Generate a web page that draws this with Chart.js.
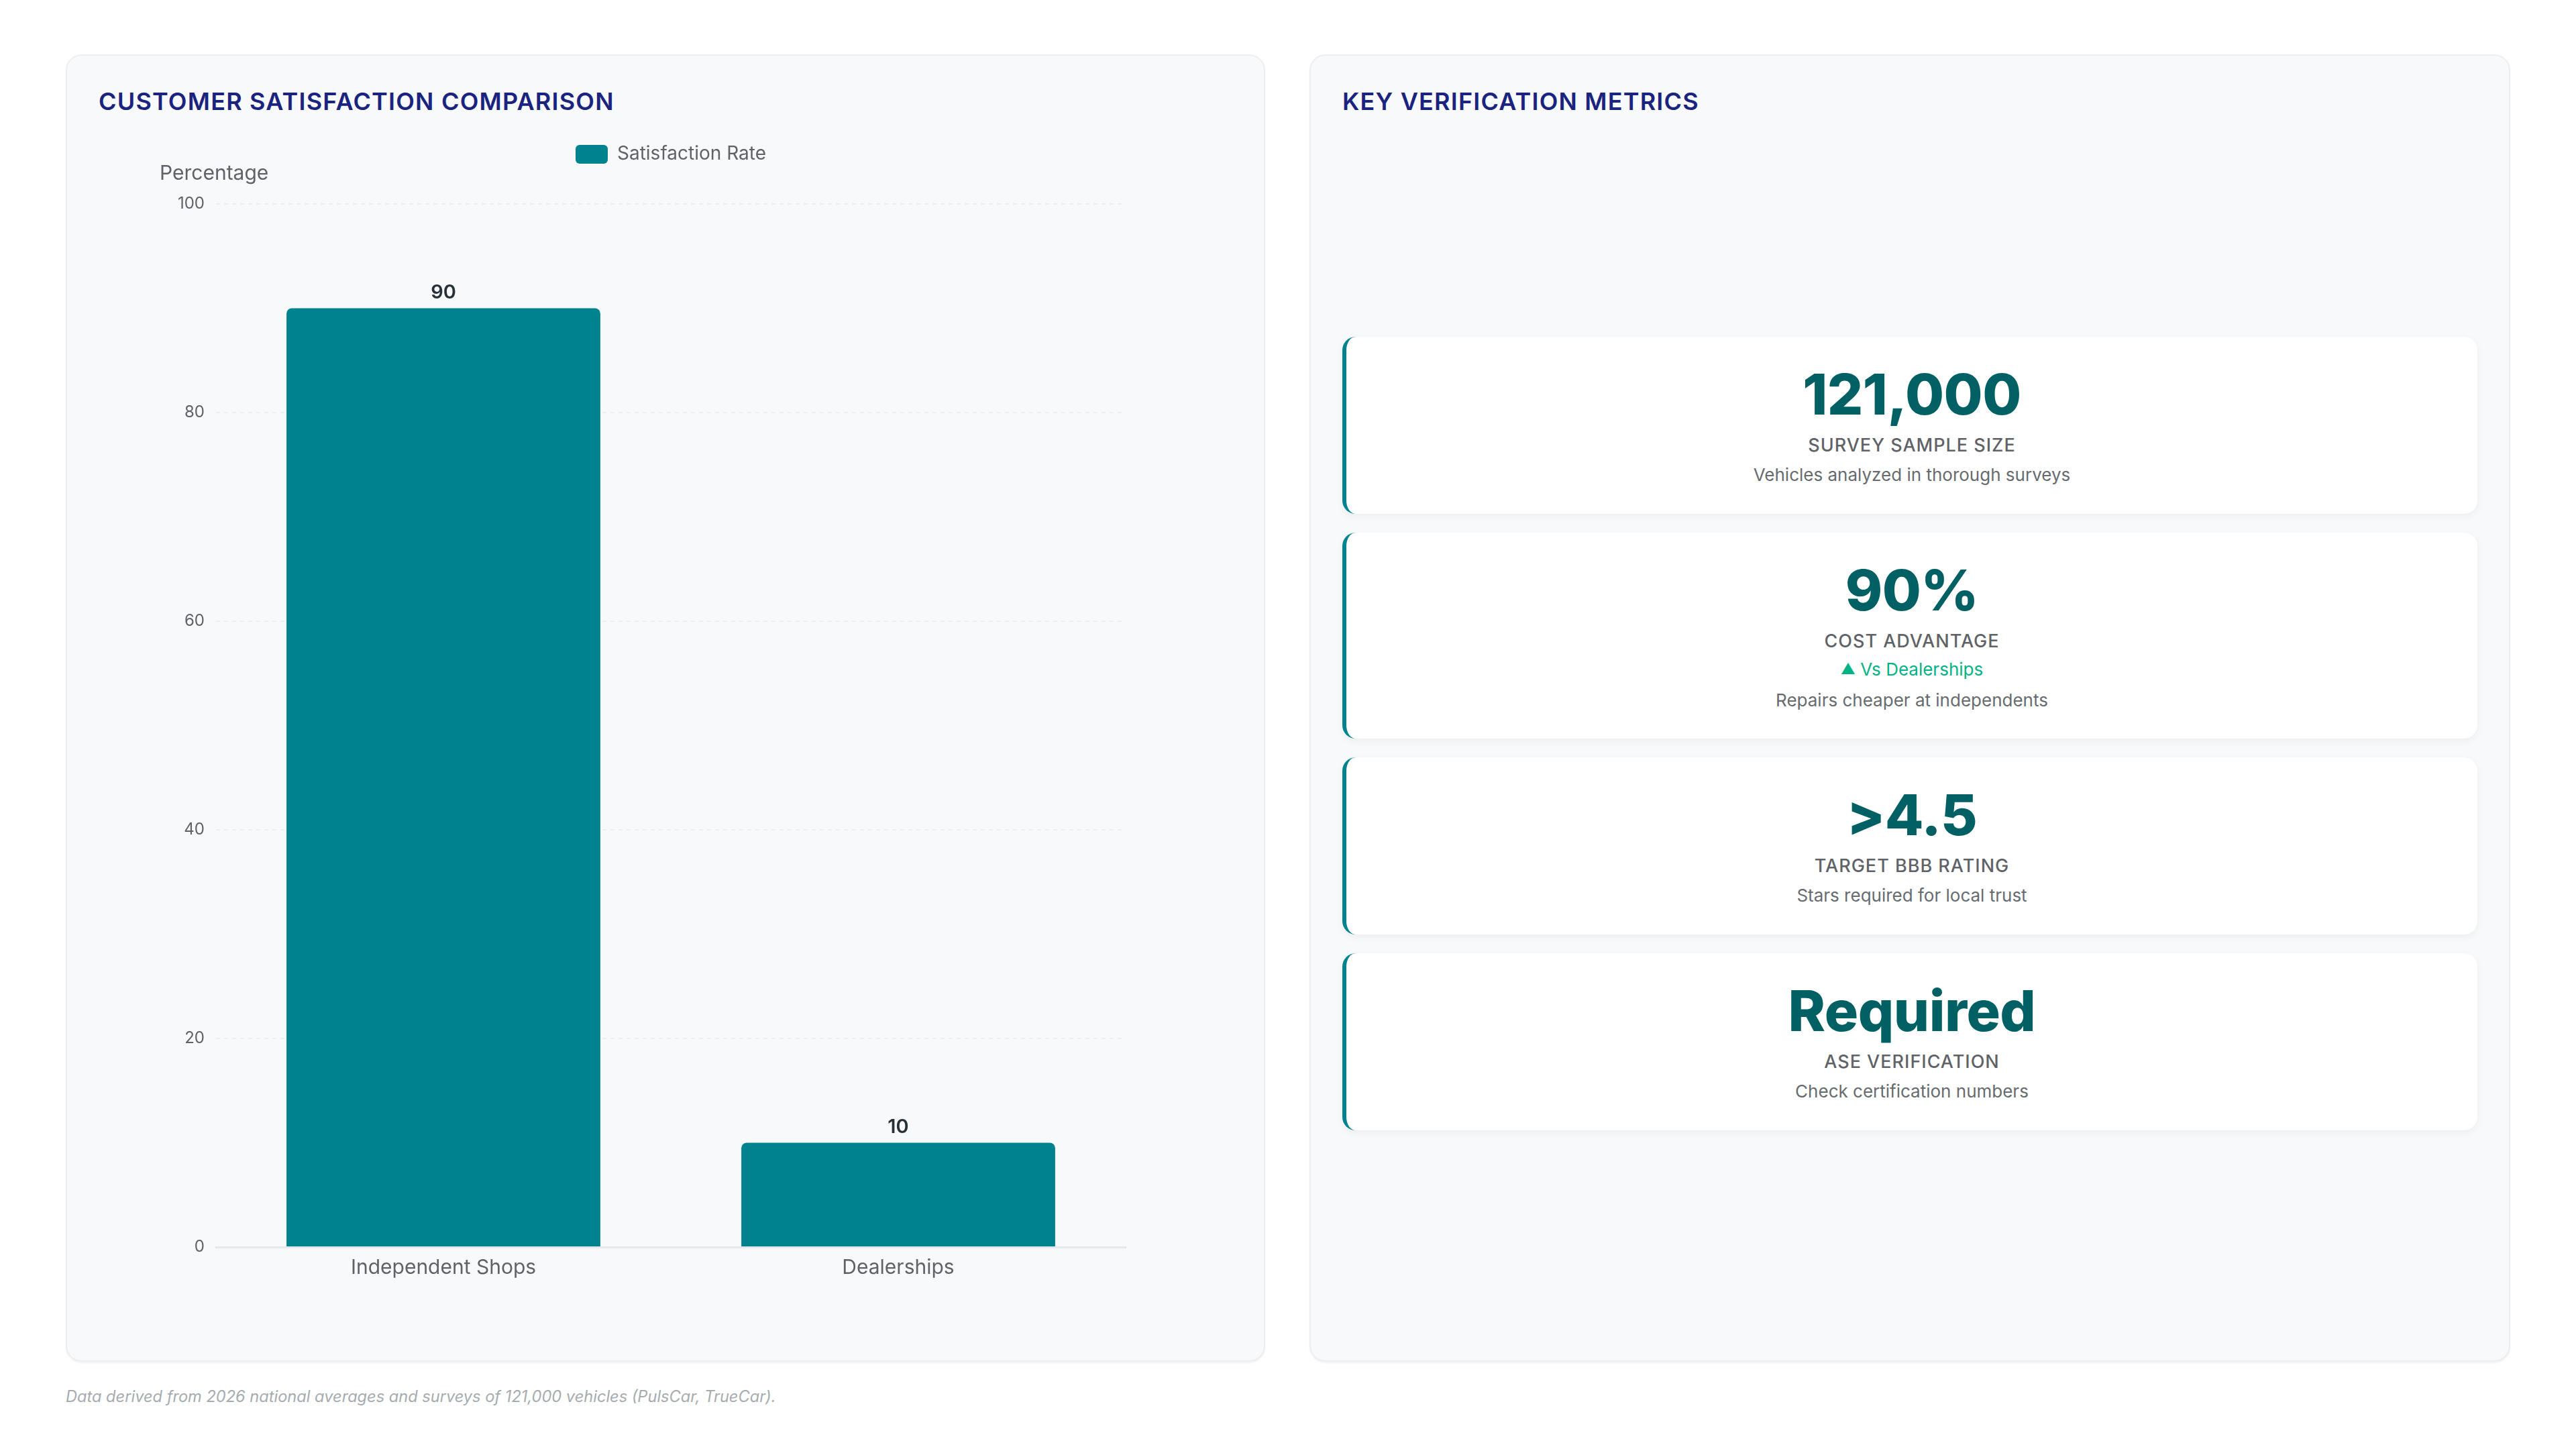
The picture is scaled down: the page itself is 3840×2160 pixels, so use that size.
<!DOCTYPE html>
<html>
<head>
<meta charset="utf-8">
<script src="https://cdn.jsdelivr.net/npm/chart.js@4.4.1/dist/chart.umd.min.js"></script>
<style>
  html, body { margin:0; padding:0; background:#ffffff; width:3840px; height:2160px; overflow:hidden; font-family: Inter, "Noto Sans", sans-serif; }
  .panel { position:absolute; top:81px; height:1949px; background:#f8f9fb; border:2px solid #eceef1; border-radius:24px; box-sizing:border-box; box-shadow:0 2px 3px rgba(0,0,0,0.05); }
  .ptitle { position:absolute; top:131px; font-size:36px; font-weight:600; color:#1a237e; letter-spacing:1.2px; line-height:40px; white-space:nowrap; }
  #chartWrap { position:absolute; left:147px; top:154px; width:1700px; height:1772px; }
  .metric { position:absolute; left:2001px; width:1692px; background:#ffffff; border-radius:20px; border-left:6px solid #00838f; box-sizing:border-box; box-shadow:0 4px 12px rgba(0,0,0,0.05); text-align:center; }
  .mv { position:absolute; left:0; right:0; font-size:84px; font-weight:800; color:#006064; line-height:92px; letter-spacing:-0.5px; }
  .ml { position:absolute; left:0; right:0; font-size:27px; font-weight:500; color:#5f6368; letter-spacing:1px; line-height:34px; text-transform:uppercase; }
  .ms { position:absolute; left:0; right:0; font-size:26px; font-weight:400; color:#666b70; line-height:32px; }
  .mt { position:absolute; left:0; right:0; font-size:26px; font-weight:400; color:#00b386; line-height:32px; }
  .tri { font-size:22px; position:relative; top:-2px; }
  #foot { position:absolute; left:98px; top:2066px; font-size:23.6px; font-style:italic; color:#a6abb0; line-height:32px; white-space:nowrap; }
</style>
</head>
<body>
<div class="panel" style="left:98px; width:1788px;"></div>
<div class="panel" style="left:1952px; width:1790px;"></div>
<div class="ptitle" style="left:147px;">CUSTOMER SATISFACTION COMPARISON</div>
<div class="ptitle" style="left:2001px;">KEY VERIFICATION METRICS</div>
<div id="chartWrap"><canvas id="c"></canvas></div>
<div id="metrics"></div>
<div id="foot">Data derived from 2026 national averages and surveys of 121,000 vehicles (PulsCar, TrueCar).</div>
<script>
// ---- data ----
const categories = ["Independent Shops", "Dealerships"];
const satisfactionRate = [90, 10];
const seriesLabel = "Satisfaction Rate";
const yTicks = [0, 20, 40, 60, 80, 100];
const axisTitle = "Percentage";

const metricValues = ["121,000", "90%", ">4.5", "Required"];
const metricLabels = ["Survey Sample Size", "Cost Advantage", "Target BBB Rating", "ASE Verification"];
const metricTrends = ["", "Vs Dealerships", "", ""];
const metricSubs = ["Vehicles analyzed in thorough surveys", "Repairs cheaper at independents", "Stars required for local trust", "Check certification numbers"];

// ---- metric cards ----
(function(){
  const wrap = document.getElementById('metrics');
  let top = 502;
  metricValues.forEach((v, i) => {
    const hasTrend = metricTrends[i] !== "";
    const h = hasTrend ? 307 : 264;
    const card = document.createElement('div');
    card.className = 'metric';
    card.style.top = top + 'px';
    card.style.height = h + 'px';
    let html = '<div class="mv" style="top:40px">' + v + '</div>' +
               '<div class="ml" style="top:145px">' + metricLabels[i] + '</div>';
    if (hasTrend) {
      html += '<div class="mt" style="top:188px"><span class="tri">▲</span> ' + metricTrends[i] + '</div>';
      html += '<div class="ms" style="top:234px">' + metricSubs[i] + '</div>';
    } else {
      html += '<div class="ms" style="top:190px">' + metricSubs[i] + '</div>';
    }
    card.innerHTML = html;
    wrap.appendChild(card);
    top += h + 28;
  });
})();

// ---- chart ----
const valueLabels = {
  id: 'valueLabels',
  afterDatasetsDraw(chart) {
    const ctx = chart.ctx;
    const meta = chart.getDatasetMeta(0);
    ctx.save();
    ctx.font = '600 29px Inter, "Noto Sans", sans-serif';
    ctx.fillStyle = '#263238';
    ctx.textAlign = 'center';
    ctx.textBaseline = 'alphabetic';
    meta.data.forEach((bar, i) => {
      ctx.fillText(String(chart.data.datasets[0].data[i]), bar.x, bar.y - 15);
    });
    ctx.restore();
  }
};

new Chart(document.getElementById('c'), {
  type: 'bar',
  data: {
    labels: categories,
    datasets: [{
      label: seriesLabel,
      data: satisfactionRate,
      backgroundColor: '#00838f',
      borderRadius: 8,
      barPercentage: 0.69,
      categoryPercentage: 1.0
    }]
  },
  options: {
    responsive: true,
    maintainAspectRatio: false,
    animation: false,
    layout: { padding: { left: 91, right: 169, top: 2, bottom: 5 } },
    plugins: {
      legend: {
        display: true,
        position: 'top',
        fullSize: false,
        labels: {
          boxWidth: 48, boxHeight: 28, padding: 60,
          useBorderRadius: true, borderRadius: 6,
          color: '#5f6368',
          font: { family: 'Inter', size: 28 }
        }
      },
      title: {
        display: true,
        text: axisTitle,
        position: 'top',
        align: 'start',
        weight: 500,
        color: '#5f6368',
        font: { family: 'Inter', size: 30, weight: 'normal', lineHeight: '10px' },
        padding: { top: 0, bottom: 40 }
      },
      tooltip: { enabled: false }
    },
    scales: {
      x: {
        grid: { display: false, drawTicks: false },
        border: { display: true, color: '#e6e8eb', width: 3 },
        ticks: { color: '#5f6368', padding: 13, font: { family: 'Inter', size: 30 } }
      },
      y: {
        min: 0, max: 100,
        afterBuildTicks(scale) { scale.ticks = yTicks.map(v => ({ value: v })); },
        afterFit(scale) { scale.width = 84; },
        grid: { color: '#eceef1', lineWidth: 2, drawTicks: false },
        border: { display: false, dash: [6, 6] },
        ticks: { color: '#5f6368', padding: 17, font: { family: 'Inter', size: 24 } }
      }
    }
  },
  plugins: [valueLabels]
});
</script>
</body>
</html>
